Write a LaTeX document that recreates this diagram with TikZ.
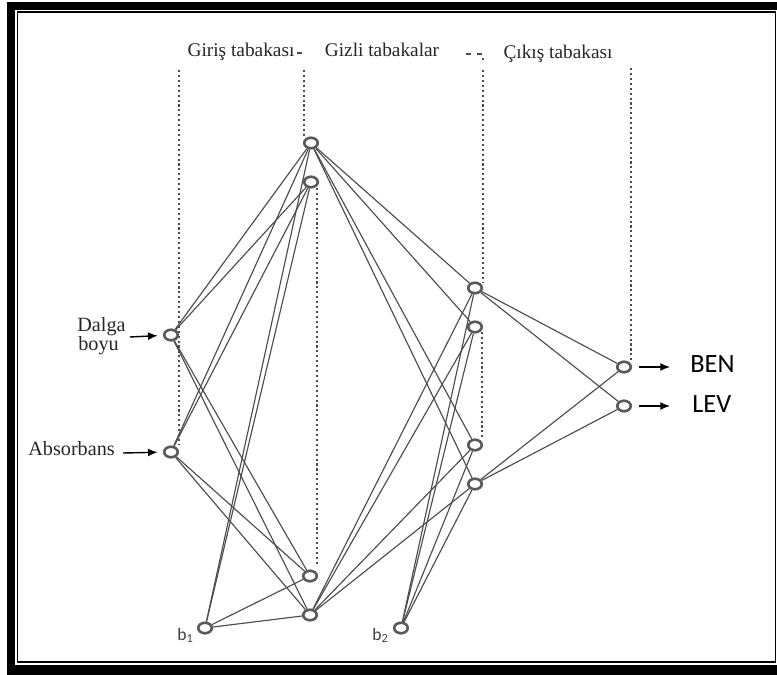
\documentclass[tikz,border=0pt]{standalone}
\usepackage{fontspec}
\setmainfont{Liberation Serif}
\newfontfamily\labelsans{Carlito}
\usetikzlibrary{arrows.meta,shapes.geometric}
\tikzset{
 neuron/.style={ellipse,draw=black!65,fill=white,line width=1.5pt,minimum width=0.27cm,minimum height=0.21cm,inner sep=0pt},
 link/.style={draw=black!70,line width=0.65pt},
 guide/.style={draw=black!70,line width=1.1pt,dash pattern=on 1.2pt off 1.6pt},
 arr/.style={-{Latex[length=5.5pt,width=4.5pt]},line width=0.8pt},
 layer/.style={font=\fontsize{11}{13}\selectfont,anchor=base,inner sep=0pt,text=black!85},
 inlabel/.style={font=\fontsize{11.5}{13}\selectfont,anchor=base west,inner sep=0pt,text=black!85},
 outlabel/.style={font=\labelsans\fontsize{15}{17}\selectfont,anchor=base west,inner sep=0pt},
 biaslabel/.style={font=\labelsans\fontsize{10}{12}\selectfont,anchor=base west,inner sep=0pt,text=black!75}
}

\begin{document}
\begin{tikzpicture}[x=0.02cm,y=-0.02cm]
\useasboundingbox (0,0) rectangle (777,675);
% frame
\fill (7,2) rectangle (777,10);
\fill (7,2) rectangle (15,675);
\fill (7,665) rectangle (777,675);
\draw[line width=0.7pt] (17.5,12) rectangle (775.5,662);

% layer titles
\node[layer] (tIn) at (241,57) {Giriş tabakası};
\node[layer] (tHid) at (382,57) {Gizli tabakalar};
\node[layer] (tOut) at (558,59) {Çıkış tabakası};

% dotted guides
\draw[guide,dash pattern=on 3pt off 3pt] (297,53) -- (307,53);
\draw[guide] (304,70) -- (304,137);
\draw[guide] (179,70) -- (179,445);
\draw[guide] (317,188) -- (317,565);
\draw[guide,dash pattern=on 3pt off 3pt] (466,54) -- (483,54) -- (483,60);
\draw[guide] (483,70) -- (483,282);
\draw[guide] (482,332) -- (482,438);
\draw[guide] (631,68) -- (631,360);

% neurons
\node[neuron] (x1) at (171,335) {};
\node[neuron] (x2) at (171,452) {};
\node[neuron] (b1) at (205,628) {};
\node[neuron] (h1) at (311,143) {};
\node[neuron] (h2) at (311,182) {};
\node[neuron] (h3) at (310,576) {};
\node[neuron] (h4) at (310,615) {};
\node[neuron] (b2) at (401,628) {};
\node[neuron] (g1) at (475,288) {};
\node[neuron] (g2) at (475,327) {};
\node[neuron] (g3) at (475,445) {};
\node[neuron] (g4) at (475,484) {};
\node[neuron] (y1) at (624,367) {};
\node[neuron] (y2) at (624,406) {};

% links
\foreach \s in {x1,x2,b1} \foreach \t in {h1,h2,h3,h4} \draw[link] (\s) -- (\t);
\foreach \s in {h1,h4,b2} \foreach \t in {g1,g2,g3,g4} \draw[link] (\s) -- (\t);
\foreach \s in {g1,g4} \foreach \t in {y1,y2} \draw[link] (\s) -- (\t);

% inputs
\node[inlabel] (lDalga) at (77,332) {Dalga};
\node[inlabel] (lBoyu) at (78,350) {boyu};
\node[inlabel] (lAbs) at (28,455) {Absorbans};
\coordinate (inDalga) at (130,337);
\coordinate (inAbs) at (123,453);
\draw[arr,shorten >=3pt] (inDalga) -- (x1);
\draw[arr,shorten >=3pt] (inAbs) -- (x2);

% outputs
\coordinate (outBen) at (670,367);
\coordinate (outLev) at (670,406);
\draw[arr,shorten <=4pt] (y1) -- (outBen);
\draw[arr,shorten <=4pt] (y2) -- (outLev);
\node[outlabel] (lBen) at (690,372) {BEN};
\node[outlabel] (lLev) at (692,412) {LEV};

% biases
\node[biaslabel] (lB1) at (177,640) {b\textsubscript{1}};
\node[biaslabel] (lB2) at (372,640) {b\textsubscript{2}};
\end{tikzpicture}
\end{document}
